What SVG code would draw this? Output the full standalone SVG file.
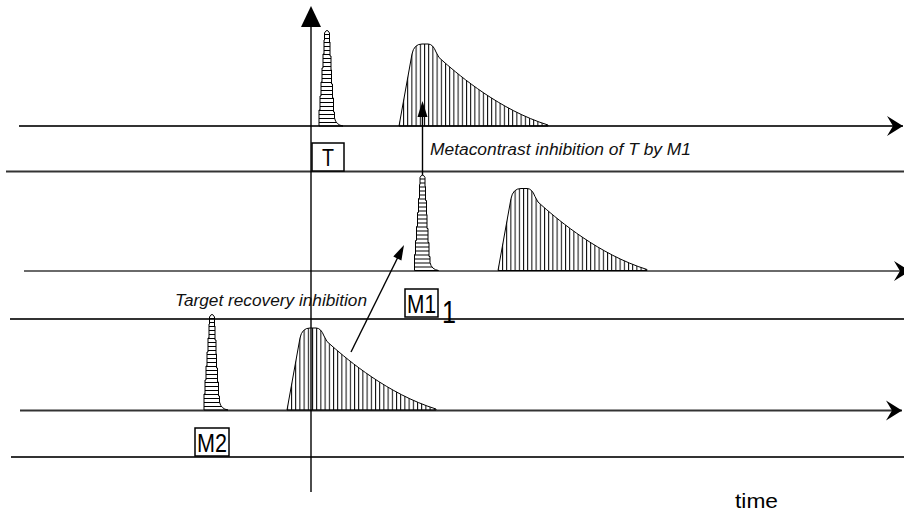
<svg xmlns="http://www.w3.org/2000/svg" width="904" height="514" viewBox="0 0 904 514">
<style>
.ln{stroke:#333;stroke-width:2;fill:none}
.ax{stroke:#000;stroke-width:1.4;fill:none}
.spk{fill:url(#hh);stroke:#000;stroke-width:1}
.hmp{fill:url(#vh);stroke:#000;stroke-width:1}
.box{fill:#fff;stroke:#000;stroke-width:1.5}
.lbl{font-family:"Liberation Sans",Arial,sans-serif;fill:#000}
.it{font-family:"Liberation Sans",Arial,sans-serif;font-style:italic;fill:#111}
.ah{fill:#000;stroke:none}
</style>
<defs>
<pattern id="hh" patternUnits="userSpaceOnUse" width="10" height="4"><line x1="0" y1="0.5" x2="10" y2="0.5" stroke="#000" stroke-width="1"/></pattern>
<pattern id="vh" patternUnits="userSpaceOnUse" width="4.2" height="10"><line x1="0.5" y1="0" x2="0.5" y2="10" stroke="#000" stroke-width="1"/></pattern>
<marker id="stealth" viewBox="-17 -11 18 22" markerWidth="18" markerHeight="22" refX="0" refY="0" orient="auto" markerUnits="userSpaceOnUse"><path d="M0,0 L-16,-10 L-10,0 L-16,10 Z" fill="#000"/></marker>
<path id="spike" d="M -8,96 L -8,80 L -7,80 L -7,66 L -6,66 L -6,52 L -5,52 L -5,38 L -4,38 L -4,24 L -3,24 L -3,10 L -2.5,10 L -2.5,3 Q 0,-2 2.5,3 L 2.5,12 L 3,12 L 3,26 L 4,26 L 4,40 L 4.5,40 L 4.5,54 L 5.5,54 L 5.5,68 L 6.5,68 L 6.5,82 L 7.5,82 L 7.5,88 Q 9,95 16,96 Z"/>
<path id="hump" d="M -25,0 L -12,-72 Q -10,-82 -2,-82 L 4,-82 Q 9,-82 12,-74 Q 14,-68 20,-64 C 36,-50 76,-16 124,-1 L 124,0 Z"/>
</defs>
<rect width="904" height="514" fill="#fff"/>

<g id="axes">
<line class="ln" x1="19" y1="126" x2="903" y2="126" marker-end="url(#stealth)"/>
<line class="ln" x1="6" y1="171.5" x2="904" y2="171.5"/>
<line class="ln" x1="24" y1="271" x2="910" y2="271" style="stroke:#6a6a6a" marker-end="url(#stealth)"/>
<line class="ln" x1="10" y1="319" x2="904" y2="319"/>
<line class="ln" x1="20" y1="410.5" x2="902" y2="410.5" marker-end="url(#stealth)"/>
<line class="ln" x1="11" y1="457" x2="904" y2="457"/>
<line class="ax" x1="311" y1="492" x2="311" y2="22"/>
<polygon class="ah" points="311,6 301,27 321,27"/>
</g>

<g id="row-T">
<use href="#spike" class="spk" transform="translate(327,30)"/>
<use href="#hump" class="hmp" transform="translate(424,126)"/>
<rect class="box" x="312" y="143" width="32" height="28"/>
<text class="lbl" x="328" y="166" font-size="24" text-anchor="middle" textLength="12" lengthAdjust="spacingAndGlyphs">T</text>
</g>

<g id="row-M1">
<use href="#spike" class="spk" transform="translate(422.5,174.5)"/>
<use href="#hump" class="hmp" transform="translate(523,270.5)"/>
<rect class="box" x="405" y="289" width="33" height="28"/>
<text class="lbl" x="421.5" y="313" font-size="25" text-anchor="middle" textLength="29" lengthAdjust="spacingAndGlyphs">M1</text>
<text class="lbl" x="442" y="323" font-size="32" textLength="14" lengthAdjust="spacingAndGlyphs">1</text>
</g>

<g id="row-M2">
<use href="#spike" class="spk" transform="translate(212,314)"/>
<use href="#hump" class="hmp" transform="translate(312,410)"/>
<rect class="box" x="195" y="428" width="34" height="28"/>
<text class="lbl" x="212" y="452" font-size="25" text-anchor="middle" textLength="30" lengthAdjust="spacingAndGlyphs">M2</text>
</g>

<g id="connectors">
<line class="ax" x1="422.5" y1="175" x2="422.5" y2="112"/>
<polygon class="ah" points="422.5,101 417.5,117 427.5,117"/>
<line class="ax" x1="351" y1="352" x2="399" y2="255"/>
<polygon class="ah" points="404,245 401.4,260.4 393.3,256.4"/>
</g>

<g id="labels">
<text class="it" x="430" y="155" font-size="16" textLength="261" lengthAdjust="spacingAndGlyphs">Metacontrast inhibition of T by M1</text>
<text class="it" x="175" y="306" font-size="16" textLength="192" lengthAdjust="spacingAndGlyphs">Target recovery inhibition</text>
<text class="lbl" x="735" y="508" font-size="21" textLength="43" lengthAdjust="spacingAndGlyphs">time</text>
</g>
</svg>
